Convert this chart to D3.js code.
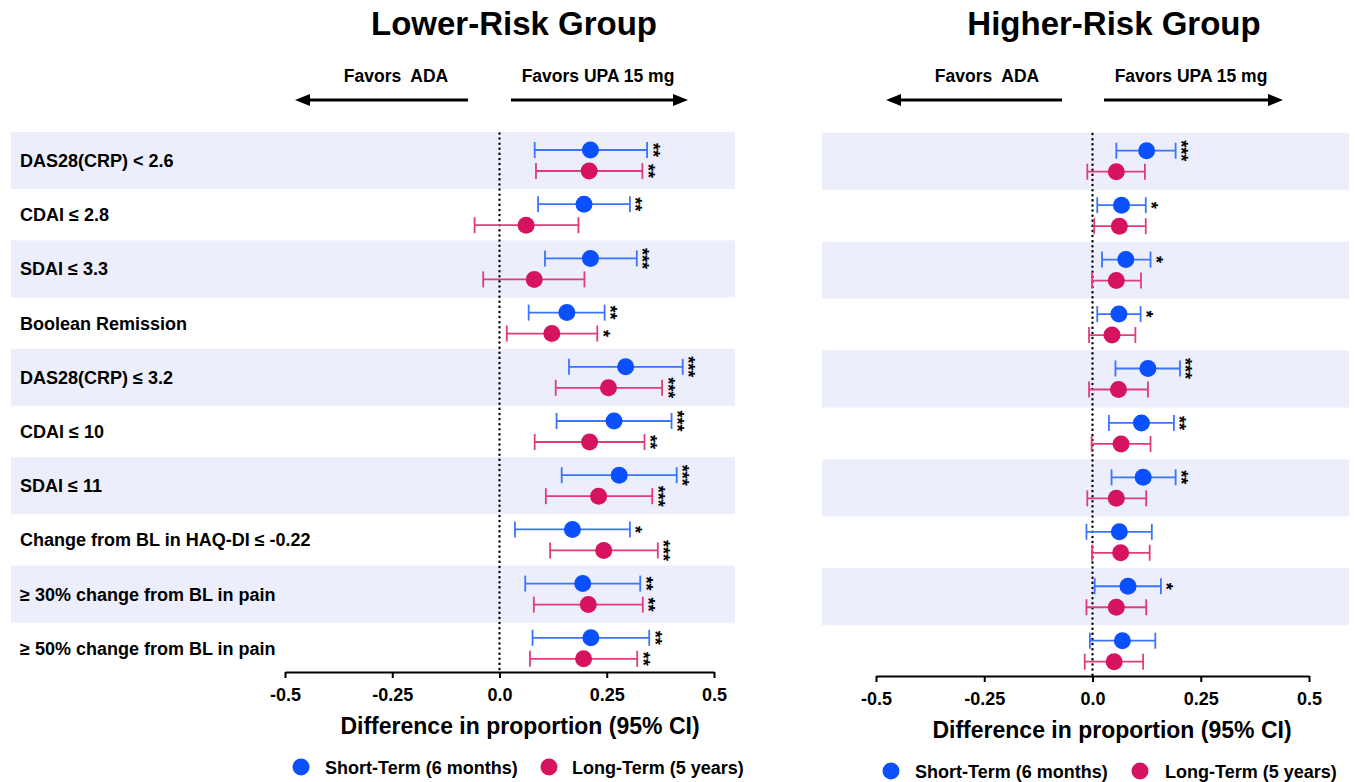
<!DOCTYPE html>
<html>
<head>
<meta charset="utf-8">
<script src="https://cdn.jsdelivr.net/npm/d3@7"></script>
<style>
  html, body { margin: 0; padding: 0; background: #ffffff; }
  svg { display: block; }
  text { font-family: "Liberation Sans", Arial, Helvetica, sans-serif; font-weight: bold; fill: #000; }
</style>
</head>
<body>
<svg id="chart" width="1355" height="782"></svg>
<script>
// ---------------- DATA ----------------
const categories = [
  "DAS28(CRP) < 2.6",
  "CDAI \u2264 2.8",
  "SDAI \u2264 3.3",
  "Boolean Remission",
  "DAS28(CRP) \u2264 3.2",
  "CDAI \u2264 10",
  "SDAI \u2264 11",
  "Change from BL in HAQ-DI \u2264 -0.22",
  "\u2265 30% change from BL in pain",
  "\u2265 50% change from BL in pain"
];
const tickValues = [-0.5, -0.25, 0, 0.25, 0.5];
const tickLabels = ["-0.5", "-0.25", "0.0", "0.25", "0.5"];
const seriesNames = ["Short-Term (6 months)", "Long-Term (5 years)"];

// Lower-Risk Group
const lowerShortEst = [0.212, 0.197, 0.212, 0.157, 0.294, 0.267, 0.279, 0.170, 0.194, 0.213];
const lowerShortLo  = [0.082, 0.090, 0.106, 0.068, 0.162, 0.133, 0.145, 0.036, 0.060, 0.077];
const lowerShortHi  = [0.344, 0.304, 0.320, 0.245, 0.427, 0.401, 0.413, 0.304, 0.328, 0.349];
const lowerLongEst  = [0.209, 0.062, 0.081, 0.122, 0.254, 0.210, 0.231, 0.243, 0.207, 0.196];
const lowerLongLo   = [0.085, -0.058, -0.038, 0.017, 0.131, 0.082, 0.108, 0.118, 0.080, 0.071];
const lowerLongHi   = [0.333, 0.184, 0.198, 0.228, 0.379, 0.338, 0.356, 0.369, 0.334, 0.321];
const lowerShortSig = ["**", "**", "***", "**", "***", "***", "***", "*", "**", "**"];
const lowerLongSig  = ["**", "", "", "*", "***", "**", "***", "***", "**", "**"];

// Higher-Risk Group
const higherShortEst = [0.125, 0.067, 0.077, 0.061, 0.128, 0.113, 0.117, 0.062, 0.082, 0.069];
const higherShortLo  = [0.055, 0.011, 0.022, 0.011, 0.053, 0.038, 0.044, -0.014, 0.005, -0.006];
const higherShortHi  = [0.192, 0.123, 0.134, 0.111, 0.202, 0.188, 0.192, 0.137, 0.158, 0.145];
const higherLongEst  = [0.055, 0.062, 0.055, 0.045, 0.060, 0.066, 0.055, 0.065, 0.055, 0.050];
const higherLongLo   = [-0.012, 0.004, -0.001, -0.008, -0.008, -0.002, -0.012, -0.001, -0.014, -0.018];
const higherLongHi   = [0.121, 0.123, 0.112, 0.099, 0.128, 0.134, 0.124, 0.132, 0.124, 0.117];
const higherShortSig = ["***", "*", "*", "*", "***", "**", "**", "", "*", ""];
const higherLongSig  = ["", "", "", "", "", "", "", "", "", ""];

// ---------------- STYLE ----------------
const BLUE_DOT = "#0a50ff", BLUE_LINE = "#3a74ff";
const PINK_DOT = "#d6135f", PINK_LINE = "#e03c7c";
const BAND = "#eceefc";

const svg = d3.select("#chart");

function drawPanel(cfg) {
  const g = svg.append("g");
  const x = d3.scaleLinear().domain([-0.5, 0.5]).range(cfg.xRange);
  const y = d3.scaleBand().domain(categories).range(cfg.yRange).padding(0);
  const bw = y.bandwidth();
  const cy = c => y(c) + bw / 2;

  // shaded bands
  g.selectAll("rect.band").data(categories.filter((c, i) => i % 2 === 0))
    .enter().append("rect")
    .attr("x", cfg.bandX[0]).attr("width", cfg.bandX[1] - cfg.bandX[0])
    .attr("y", c => cy(c) - 28.5).attr("height", 57)
    .attr("fill", BAND);

  // labels
  if (cfg.labels) {
    g.selectAll("text.lab").data(categories).enter().append("text")
      .attr("x", 20).attr("y", c => cy(c) + 6.5)
      .style("font-size", "18px")
      .text(d => d);
  }

  // zero line
  g.append("line")
    .attr("x1", x(0)).attr("x2", x(0))
    .attr("y1", cfg.yRange[0]).attr("y2", cfg.axisY)
    .attr("stroke", "#000").attr("stroke-width", 2.4)
    .attr("stroke-linecap", "round")
    .attr("stroke-dasharray", "0.1,5");

  // axis
  const axis = d3.axisBottom(x).tickValues(tickValues)
    .tickFormat((d, i) => tickLabels[i]).tickSize(6).tickSizeOuter(0).tickPadding(10);
  const ag = g.append("g").attr("transform", `translate(0,${cfg.axisY})`).call(axis);
  ag.select(".domain").attr("stroke", "#000").attr("stroke-width", 2);
  ag.selectAll(".tick line").attr("stroke", "#000").attr("stroke-width", 2);
  ag.selectAll(".tick text").style("font-size", "18px").style("font-weight", "bold")
    .style("font-family", "'Liberation Sans', Arial, sans-serif").attr("fill", "#000");

  // axis title
  g.append("text").attr("x", cfg.axisTitleX).attr("y", cfg.axisY + 62)
    .attr("text-anchor", "middle").style("font-size", "23px")
    .text("Difference in proportion (95% CI)");

  // series
  const series = [
    {est: cfg.sEst, lo: cfg.sLo, hi: cfg.sHi, sig: cfg.sSig, dot: BLUE_DOT, line: BLUE_LINE, off: -10.5},
    {est: cfg.lEst, lo: cfg.lLo, hi: cfg.lHi, sig: cfg.lSig, dot: PINK_DOT, line: PINK_LINE, off: 10.5}
  ];
  series.forEach(s => {
    const rows = categories.map((c, i) => ({c, est: s.est[i], lo: s.lo[i], hi: s.hi[i], sig: s.sig[i]}));
    const sg = g.append("g");
    sg.selectAll("line.ci").data(rows).enter().append("line")
      .attr("x1", d => x(d.lo)).attr("x2", d => x(d.hi))
      .attr("y1", d => cy(d.c) + s.off).attr("y2", d => cy(d.c) + s.off)
      .attr("stroke", s.line).attr("stroke-width", 1.8);
    ["lo", "hi"].forEach(k => {
      sg.selectAll("line.cap" + k).data(rows).enter().append("line")
        .attr("x1", d => x(d[k])).attr("x2", d => x(d[k]))
        .attr("y1", d => cy(d.c) + s.off - 8).attr("y2", d => cy(d.c) + s.off + 8)
        .attr("stroke", s.line).attr("stroke-width", 1.8);
    });
    sg.selectAll("circle").data(rows).enter().append("circle")
      .attr("cx", d => x(d.est)).attr("cy", d => cy(d.c) + s.off)
      .attr("r", 8.5).attr("fill", s.dot);
    sg.selectAll("text.sig").data(rows.filter(d => d.sig)).enter().append("text")
      .attr("transform", d => `translate(${x(d.hi) - 0.5},${cy(d.c) + s.off}) rotate(90)`)
      .attr("text-anchor", "middle")
      .style("font-size", "18px")
      .text(d => d.sig);
  });

  // title
  g.append("text").attr("x", cfg.titleX).attr("y", 35)
    .attr("text-anchor", "middle").style("font-size", "33px")
    .text(cfg.title);

  // favors texts and arrows
  g.append("text").attr("x", cfg.favL.tx).attr("y", 82).attr("text-anchor", "middle")
    .style("font-size", "17.5px").style("white-space", "pre").text("Favors  ADA");
  g.append("text").attr("x", cfg.favR.tx).attr("y", 82).attr("text-anchor", "middle")
    .style("font-size", "17.5px").text("Favors UPA 15 mg");
  [cfg.favL, cfg.favR].forEach(f => {
    const dir = Math.sign(f.x2 - f.x1);
    const tipBase = f.x2 - dir * 15;
    g.append("line").attr("x1", f.x1).attr("x2", tipBase).attr("y1", 100).attr("y2", 100)
      .attr("stroke", "#000").attr("stroke-width", 3);
    g.append("path")
      .attr("d", `M${f.x2},100 L${tipBase},94 L${tipBase},106 Z`)
      .attr("fill", "#000");
  });

  // legend
  const lg = g.append("g");
  cfg.legend.forEach((L, i) => {
    lg.append("circle").attr("cx", L.cx).attr("cy", cfg.legendY).attr("r", 8.5)
      .attr("fill", i === 0 ? BLUE_DOT : PINK_DOT);
    lg.append("text").attr("x", L.tx).attr("y", cfg.legendY + 6.5)
      .style("font-size", "18px").text(seriesNames[i]);
  });
}

drawPanel({
  title: "Lower-Risk Group", titleX: 514,
  labels: true,
  xRange: [285, 714], yRange: [133.4, 675.4], axisY: 672,
  bandX: [11, 735], axisTitleX: 520,
  favL: {tx: 396, x1: 468, x2: 295}, favR: {tx: 598, x1: 511, x2: 688},
  legendY: 767, legend: [{cx: 301, tx: 325}, {cx: 549, tx: 572}],
  sEst: lowerShortEst, sLo: lowerShortLo, sHi: lowerShortHi, sSig: lowerShortSig,
  lEst: lowerLongEst, lLo: lowerLongLo, lHi: lowerLongHi, lSig: lowerLongSig
});

drawPanel({
  title: "Higher-Risk Group", titleX: 1114,
  labels: false,
  xRange: [876, 1309], yRange: [134, 678.4], axisY: 676,
  bandX: [822, 1349], axisTitleX: 1112,
  favL: {tx: 987, x1: 1062, x2: 886}, favR: {tx: 1191, x1: 1104, x2: 1283},
  legendY: 771, legend: [{cx: 891, tx: 915}, {cx: 1140, tx: 1165}],
  sEst: higherShortEst, sLo: higherShortLo, sHi: higherShortHi, sSig: higherShortSig,
  lEst: higherLongEst, lLo: higherLongLo, lHi: higherLongHi, lSig: higherLongSig
});
</script>
</body>
</html>
